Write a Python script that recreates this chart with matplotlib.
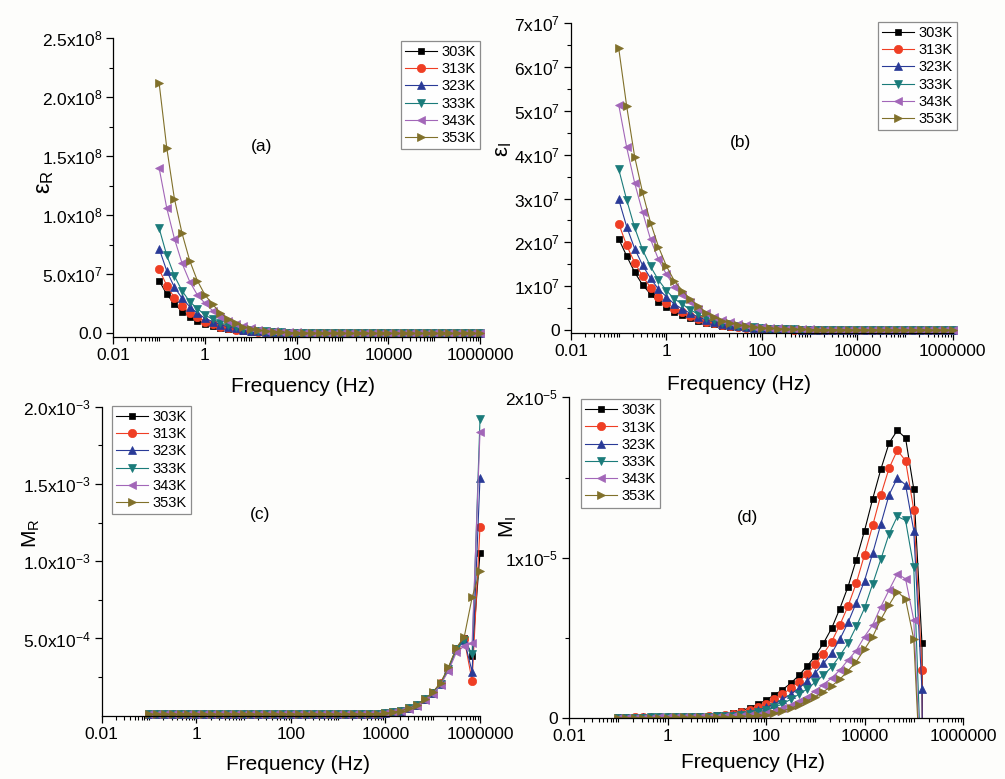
"""
Dielectric and electric modulus spectra vs frequency, four panels (a)-(d).
"""

import numpy as np
import matplotlib
matplotlib.use("Agg")
import matplotlib.pyplot as plt
from matplotlib.ticker import FixedLocator, LogLocator, NullFormatter

plt.rcParams['font.family'] = ['Liberation Sans', 'DejaVu Sans']
plt.rcParams['mathtext.fontset'] = 'custom'
plt.rcParams['mathtext.rm'] = 'Liberation Sans'
plt.rcParams['mathtext.it'] = 'Liberation Sans:italic'
plt.rcParams['mathtext.bf'] = 'Liberation Sans:bold'

# measurement frequencies (Hz), 6 points per decade
freq = [0.1, 0.1468, 0.2154, 0.3162, 0.4642, 0.6813,
        1, 1.468, 2.154, 3.162, 4.642, 6.813,
        10, 14.68, 21.54, 31.62, 46.42, 68.13,
        100, 146.8, 215.4, 316.2, 464.2, 681.3,
        1000, 1468, 2154, 3162, 4642, 6813,
        1e4, 14680, 21540, 31620, 46420, 68130,
        1e5, 146800, 215400, 316200, 464200, 681300, 1e6]

temps = ['303K', '313K', '323K', '333K', '343K', '353K']

# real permittivity, units of 1e6
eps_r_303 = [44.6, 33.0, 24.9, 18.4, 14.1, 10.7, 7.9, 6.2, 4.6, 3.4, 2.5, 1.85, 1.36, 1.0, 0.74,
             0.55, 0.41, 0.30, 0.22, 0.16, 0.12, 0.09, 0.065, 0.048, 0.036, 0.027, 0.020, 0.015,
             0.011, 0.008, 0.006, 0.0045, 0.0034, 0.0026, 0.002, 0.0015, 0.0012, 0.0009, 0.0007,
             0.0005, 0.0004, 0.0003, 0.0002]
eps_r_313 = [54.2, 40.4, 30.2, 23.4, 17.0, 13.6, 9.9, 7.6, 5.7, 4.3, 3.2, 2.4, 1.78, 1.32, 0.98,
             0.73, 0.54, 0.40, 0.30, 0.22, 0.16, 0.12, 0.09, 0.066, 0.049, 0.036, 0.027, 0.020,
             0.015, 0.011, 0.008, 0.006, 0.0045, 0.0034, 0.0026, 0.002, 0.0015, 0.0012, 0.0009,
             0.0007, 0.0005, 0.0004, 0.0003]
eps_r_323 = [71.8, 52.8, 39.0, 29.7, 22.6, 17.0, 12.7, 9.9, 7.4, 5.5, 4.1, 3.0, 2.25, 1.68, 1.25,
             0.93, 0.69, 0.51, 0.38, 0.28, 0.21, 0.155, 0.115, 0.085, 0.063, 0.047, 0.035, 0.026,
             0.019, 0.014, 0.010, 0.0075, 0.0056, 0.0042, 0.0031, 0.0023, 0.0017, 0.0013, 0.001,
             0.0008, 0.0006, 0.0005, 0.0004]
eps_r_333 = [89.0, 66.0, 48.6, 36.0, 26.8, 21.0, 15.5, 11.9, 8.9, 6.7, 5.0, 3.7, 2.75, 2.05, 1.52,
             1.13, 0.84, 0.62, 0.46, 0.34, 0.25, 0.185, 0.137, 0.10, 0.075, 0.055, 0.041, 0.030,
             0.022, 0.016, 0.012, 0.009, 0.0067, 0.005, 0.0037, 0.0027, 0.002, 0.0015, 0.0011,
             0.0008, 0.0006, 0.0005, 0.0004]
eps_r_343 = [140, 106, 80.2, 59.3, 43.8, 32.5, 25.4, 19.2, 14.2, 10.5, 7.8, 5.8, 4.3, 3.2, 2.35,
             1.75, 1.3, 0.96, 0.71, 0.53, 0.39, 0.29, 0.215, 0.16, 0.118, 0.087, 0.064, 0.048,
             0.035, 0.026, 0.019, 0.014, 0.0105, 0.0078, 0.0058, 0.0043, 0.0032, 0.0024, 0.0018,
             0.0013, 0.001, 0.0007, 0.0005]
eps_r_353 = [212, 157, 114, 84.7, 61.6, 44.6, 32.5, 24.5, 17.5, 12.2, 8.3, 5.6, 3.8, 2.6, 1.8,
             1.25, 0.87, 0.6, 0.42, 0.29, 0.2, 0.14, 0.1, 0.07, 0.05, 0.036, 0.026, 0.019, 0.014,
             0.01, 0.0075, 0.0055, 0.004, 0.003, 0.0022, 0.0016, 0.0012, 0.0009, 0.0007, 0.0005,
             0.0004, 0.0003, 0.0002]

# imaginary permittivity, units of 1e6
eps_i_303 = [20.8, 16.9, 13.2, 10.3, 8.2, 6.5, 5.3, 4.2, 3.4, 2.7, 2.1, 1.65, 1.3, 1.0, 0.78,
             0.6, 0.46, 0.35, 0.27, 0.2, 0.15, 0.115, 0.088, 0.067, 0.051, 0.039, 0.03, 0.023,
             0.018, 0.014, 0.011, 0.0085, 0.0066, 0.0051, 0.004, 0.0031, 0.0024, 0.0019, 0.0015,
             0.0012, 0.0009, 0.0007, 0.0005]
eps_i_313 = [24.3, 19.3, 15.4, 12.3, 9.7, 7.6, 6.2, 4.9, 4.0, 3.1, 2.45, 1.9, 1.5, 1.15, 0.9,
             0.7, 0.53, 0.4, 0.31, 0.23, 0.175, 0.133, 0.1, 0.077, 0.059, 0.045, 0.034, 0.026,
             0.02, 0.015, 0.012, 0.009, 0.007, 0.0054, 0.0042, 0.0032, 0.0025, 0.0019, 0.0015,
             0.0012, 0.0009, 0.0007, 0.0005]
eps_i_323 = [29.8, 23.6, 18.6, 14.8, 11.8, 9.3, 7.6, 5.9, 4.8, 3.8, 3.0, 2.3, 1.8, 1.4, 1.1,
             0.85, 0.65, 0.5, 0.38, 0.29, 0.22, 0.168, 0.128, 0.098, 0.075, 0.057, 0.044, 0.034,
             0.026, 0.02, 0.015, 0.0115, 0.0088, 0.0068, 0.0052, 0.004, 0.0031, 0.0024, 0.0018,
             0.0014, 0.0011, 0.0008, 0.0006]
eps_i_333 = [36.7, 29.7, 23.4, 18.3, 14.5, 11.4, 9.0, 7.1, 5.9, 4.6, 3.6, 2.8, 2.2, 1.7, 1.3,
             1.0, 0.77, 0.59, 0.45, 0.34, 0.26, 0.2, 0.152, 0.116, 0.089, 0.068, 0.052, 0.04,
             0.031, 0.024, 0.018, 0.014, 0.011, 0.0083, 0.0064, 0.0049, 0.0038, 0.0029, 0.0022,
             0.0017, 0.0013, 0.001, 0.0008]
eps_i_343 = [51.4, 41.7, 33.6, 26.9, 20.7, 16.1, 12.7, 9.9, 8.0, 6.3, 4.9, 3.8, 3.0, 2.3, 1.8,
             1.4, 1.05, 0.8, 0.6, 0.46, 0.35, 0.27, 0.205, 0.157, 0.12, 0.092, 0.07, 0.054,
             0.041, 0.031, 0.024, 0.018, 0.014, 0.011, 0.0083, 0.0063, 0.0048, 0.0037, 0.0028,
             0.0022, 0.0017, 0.0013, 0.001]
eps_i_353 = [64.3, 51.1, 39.6, 31.4, 24.5, 19.0, 14.6, 11.2, 9.0, 7.0, 5.5, 3.9, 2.9, 2.1, 1.6,
             1.2, 0.9, 0.68, 0.51, 0.39, 0.3, 0.23, 0.175, 0.134, 0.102, 0.078, 0.06, 0.046,
             0.035, 0.027, 0.021, 0.016, 0.012, 0.0093, 0.0071, 0.0054, 0.0041, 0.0032, 0.0024,
             0.0018, 0.0014, 0.0011, 0.0008]

# real modulus, units of 1e-3
m_r_303 = [0.010, 0.010, 0.010, 0.010, 0.010, 0.010, 0.010, 0.010, 0.010, 0.010, 0.010, 0.010,
           0.010, 0.010, 0.010, 0.010, 0.010, 0.010, 0.010, 0.010, 0.010, 0.010, 0.010, 0.010,
           0.010, 0.010, 0.011, 0.011, 0.012, 0.013, 0.016, 0.022, 0.032, 0.048, 0.069, 0.106,
           0.149, 0.210, 0.307, 0.436, 0.505, 0.386, 1.055]
m_r_313 = [0.010, 0.010, 0.010, 0.010, 0.010, 0.010, 0.010, 0.010, 0.010, 0.010, 0.010, 0.010,
           0.010, 0.010, 0.010, 0.010, 0.010, 0.010, 0.010, 0.010, 0.010, 0.010, 0.010, 0.010,
           0.010, 0.010, 0.011, 0.011, 0.012, 0.013, 0.016, 0.022, 0.032, 0.048, 0.069, 0.106,
           0.149, 0.210, 0.305, 0.430, 0.495, 0.225, 1.223]
m_r_323 = [0.010, 0.010, 0.010, 0.010, 0.010, 0.010, 0.010, 0.010, 0.010, 0.010, 0.010, 0.010,
           0.010, 0.010, 0.010, 0.010, 0.010, 0.010, 0.010, 0.010, 0.010, 0.010, 0.010, 0.010,
           0.010, 0.010, 0.011, 0.011, 0.012, 0.013, 0.016, 0.022, 0.032, 0.048, 0.068, 0.105,
           0.148, 0.208, 0.300, 0.430, 0.490, 0.285, 1.540]
m_r_333 = [0.010, 0.010, 0.010, 0.010, 0.010, 0.010, 0.010, 0.010, 0.010, 0.010, 0.010, 0.010,
           0.010, 0.010, 0.010, 0.010, 0.010, 0.010, 0.010, 0.010, 0.010, 0.010, 0.010, 0.010,
           0.010, 0.010, 0.011, 0.011, 0.012, 0.013, 0.016, 0.022, 0.032, 0.047, 0.068, 0.105,
           0.148, 0.208, 0.305, 0.430, 0.490, 0.400, 1.920]
m_r_343 = [0.010, 0.010, 0.010, 0.010, 0.010, 0.010, 0.010, 0.010, 0.010, 0.010, 0.010, 0.010,
           0.010, 0.010, 0.010, 0.010, 0.010, 0.010, 0.010, 0.010, 0.010, 0.010, 0.010, 0.010,
           0.010, 0.010, 0.011, 0.011, 0.012, 0.013, 0.015, 0.021, 0.030, 0.045, 0.064, 0.100,
           0.140, 0.200, 0.290, 0.410, 0.450, 0.470, 1.834]
m_r_353 = [0.010, 0.010, 0.010, 0.010, 0.010, 0.010, 0.010, 0.010, 0.010, 0.010, 0.010, 0.010,
           0.010, 0.010, 0.010, 0.010, 0.010, 0.010, 0.010, 0.010, 0.010, 0.010, 0.010, 0.010,
           0.010, 0.010, 0.011, 0.011, 0.012, 0.013, 0.016, 0.022, 0.033, 0.049, 0.070, 0.108,
           0.152, 0.214, 0.315, 0.440, 0.510, 0.766, 0.937]

# imaginary modulus, units of 1e-5 (falls below zero above ~1.5e5 Hz)
m_i_303 = [0.005, 0.005, 0.006, 0.006, 0.007, 0.007, 0.008, 0.009, 0.010, 0.011, 0.013, 0.015,
           0.018, 0.023, 0.031, 0.047, 0.066, 0.087, 0.114, 0.145, 0.178, 0.218, 0.267, 0.324,
           0.389, 0.468, 0.561, 0.684, 0.821, 0.988, 1.168, 1.368, 1.553, 1.715, 1.794, 1.746,
           1.430, 0.468, -8.0, -12.0, -14.0, -15.0, -16.0]
m_i_313 = [0.004, 0.004, 0.005, 0.005, 0.006, 0.006, 0.007, 0.008, 0.009, 0.010, 0.011, 0.013,
           0.016, 0.020, 0.027, 0.037, 0.052, 0.068, 0.089, 0.118, 0.149, 0.187, 0.228, 0.276,
           0.337, 0.402, 0.478, 0.582, 0.700, 0.842, 1.019, 1.202, 1.393, 1.559, 1.670, 1.605,
           1.300, 0.301, -7.0, -11.0, -13.0, -14.0, -15.0]
m_i_323 = [0.004, 0.004, 0.004, 0.005, 0.005, 0.006, 0.006, 0.007, 0.008, 0.009, 0.010, 0.011,
           0.013, 0.016, 0.021, 0.028, 0.037, 0.052, 0.068, 0.089, 0.118, 0.149, 0.187, 0.232,
           0.284, 0.342, 0.406, 0.493, 0.597, 0.721, 0.857, 1.029, 1.212, 1.393, 1.497, 1.455,
           1.170, 0.181, -6.0, -10.0, -12.0, -13.0, -14.0]
m_i_333 = [0.003, 0.003, 0.004, 0.004, 0.005, 0.005, 0.006, 0.006, 0.007, 0.008, 0.009, 0.010,
           0.012, 0.014, 0.016, 0.020, 0.027, 0.037, 0.052, 0.068, 0.089, 0.118, 0.149, 0.182,
           0.225, 0.269, 0.320, 0.390, 0.468, 0.572, 0.686, 0.838, 0.992, 1.150, 1.258, 1.233,
           0.942, -0.45, -5.0, -9.0, -11.0, -12.0, -13.0]
m_i_343 = [0.003, 0.003, 0.003, 0.004, 0.004, 0.005, 0.005, 0.006, 0.006, 0.007, 0.008, 0.009,
           0.010, 0.012, 0.013, 0.016, 0.018, 0.022, 0.031, 0.046, 0.062, 0.083, 0.108, 0.134,
           0.173, 0.210, 0.252, 0.300, 0.364, 0.422, 0.509, 0.582, 0.696, 0.800, 0.900, 0.869,
           0.613, -0.50, -5.0, -8.0, -10.0, -11.0, -12.0]
m_i_353 = [0.002, 0.002, 0.003, 0.003, 0.003, 0.004, 0.004, 0.005, 0.005, 0.006, 0.006, 0.007,
           0.008, 0.009, 0.010, 0.012, 0.015, 0.018, 0.021, 0.031, 0.046, 0.062, 0.083, 0.108,
           0.134, 0.166, 0.201, 0.243, 0.297, 0.353, 0.430, 0.509, 0.617, 0.707, 0.790, 0.742,
           0.493, -0.55, -5.0, -8.0, -10.0, -11.0, -12.0]

colors = ['#000000', '#ef3e24', '#293a97', '#1a7b7a', '#a266b8', '#80702a']
markers = ['s', 'o', '^', 'v', '<', '>']
msizes = [5.0, 6.0, 6.2, 6.2, 6.2, 6.2]

W, H = 1005, 779
fig = plt.figure(figsize=(W / 100, H / 100), dpi=100)
fig.patch.set_facecolor('#fdfdfb')


def px_axes(left, top, right, bottom):
    # axes placed from pixel edges measured from the top-left corner
    ax = fig.add_axes([left / W, 1 - bottom / H, (right - left) / W, (bottom - top) / H])
    ax.set_facecolor('none')
    return ax


def sup_label(mant, exp):
    return r'$\mathregular{' + mant + 'x10^{' + exp + '}}$'


def style(ax, ylim, yticks, ylabels, yminor):
    ax.set_xscale('log')
    ax.set_xlim(0.01, 1e6)
    ax.xaxis.set_major_locator(FixedLocator([0.01, 1, 100, 1e4, 1e6]))
    ax.set_xticklabels(['0.01', '1', '100', '10000', '1000000'])
    ax.xaxis.set_minor_locator(LogLocator(base=10, subs=np.arange(1, 10), numticks=100))
    ax.xaxis.set_minor_formatter(NullFormatter())
    ax.set_ylim(*ylim)
    ax.set_yticks(yticks)
    ax.set_yticklabels(ylabels)
    ax.yaxis.set_minor_locator(FixedLocator(yminor))
    for side in ('top', 'right'):
        ax.spines[side].set_visible(False)
    for side in ('left', 'bottom'):
        ax.spines[side].set_linewidth(0.9)
    ax.tick_params(which='major', direction='out', length=5, width=0.9,
                   labelsize=12.5, pad=3)
    ax.tick_params(which='minor', direction='out', length=2.8, width=0.8)


def draw(ax, series, scale, clip=True):
    for ys, lab, c, m, ms in zip(series, temps, colors, markers, msizes):
        ax.plot(freq, np.array(ys) * scale, color=c, lw=0.8, marker=m, ms=ms,
                mfc=c, mec=c, mew=0.5, label=lab, clip_on=clip)


def legend(ax, x, y):
    lg = ax.legend(loc='upper left', bbox_to_anchor=(x / W, 1 - y / H),
                   bbox_transform=fig.transFigure, fontsize=10.5, frameon=True,
                   fancybox=False, borderaxespad=0, borderpad=0.3, labelspacing=0.22,
                   handlelength=2.2, handletextpad=0.3, numpoints=1)
    lg.get_frame().set_edgecolor('#707070')
    lg.get_frame().set_linewidth(0.9)


# (a) real permittivity
ax_a = px_axes(113.3, 38.3, 480, 336.7)
draw(ax_a, [eps_r_303, eps_r_313, eps_r_323, eps_r_333, eps_r_343, eps_r_353], 1e6, clip=False)
style(ax_a, (-2.9e6, 2.5e8), [0, 5e7, 1e8, 1.5e8, 2e8, 2.5e8],
      ['0.0', sup_label('5.0', '7'), sup_label('1.0', '8'), sup_label('1.5', '8'),
       sup_label('2.0', '8'), sup_label('2.5', '8')],
      [2.5e7, 7.5e7, 1.25e8, 1.75e8, 2.25e8])
legend(ax_a, 401, 40.7)
ax_a.text(0.405, 0.636, '(a)', transform=ax_a.transAxes, fontsize=12.5, ha='center', va='center')

# (b) imaginary permittivity
ax_b = px_axes(571, 23.3, 952.7, 333.3)
draw(ax_b, [eps_i_303, eps_i_313, eps_i_323, eps_i_333, eps_i_343, eps_i_353], 1e6, clip=False)
style(ax_b, (-7.5e5, 7e7), [0, 1e7, 2e7, 3e7, 4e7, 5e7, 6e7, 7e7],
      ['0'] + [sup_label(str(i), '7') for i in range(1, 8)],
      [5e6, 1.5e7, 2.5e7, 3.5e7, 4.5e7, 5.5e7, 6.5e7])
legend(ax_b, 878, 21.7)
ax_b.text(0.443, 0.614, '(b)', transform=ax_b.transAxes, fontsize=12.5, ha='center', va='center')

# (c) real modulus
ax_c = px_axes(101.7, 406.7, 480, 715.7)
draw(ax_c, [m_r_303, m_r_313, m_r_323, m_r_333, m_r_343, m_r_353], 1e-3, clip=False)
style(ax_c, (0, 2e-3), [5e-4, 1e-3, 1.5e-3, 2e-3],
      [sup_label('5.0', '-4'), sup_label('1.0', '-3'), sup_label('1.5', '-3'),
       sup_label('2.0', '-3')],
      [2.5e-4, 7.5e-4, 1.25e-3, 1.75e-3])
legend(ax_c, 112, 405.7)
ax_c.text(0.418, 0.65, '(c)', transform=ax_c.transAxes, fontsize=12.5, ha='center', va='center')

# (d) imaginary modulus
ax_d = px_axes(569, 397.3, 963, 718.3)
draw(ax_d, [m_i_303, m_i_313, m_i_323, m_i_333, m_i_343, m_i_353], 1e-5, clip=True)
style(ax_d, (0, 2e-5), [0, 1e-5, 2e-5],
      ['0', sup_label('1', '-5'), sup_label('2', '-5')],
      [0.5e-5, 1.5e-5])
legend(ax_d, 581, 399)
ax_d.text(0.454, 0.627, '(d)', transform=ax_d.transAxes, fontsize=12.5, ha='center', va='center')

# axis titles
for ax, xc, ytop in ((ax_a, 0.516, -0.135), (ax_b, 0.44, -0.134),
                     (ax_c, 0.52, -0.127), (ax_d, 0.466, -0.109)):
    ax.set_xlabel('Frequency (Hz)', fontsize=15)
    ax.xaxis.set_label_coords(xc, ytop)

fig.text(44.5 / W, 1 - 182 / H, 'ε$_\\mathregular{R}$', rotation=90, fontsize=17,
         ha='center', va='center')
fig.text(504 / W, 1 - 150 / H, 'ε$_\\mathregular{I}$', rotation=90, fontsize=16,
         ha='center', va='center')
fig.text(31 / W, 1 - 533 / H, 'M$_\\mathregular{R}$', rotation=90, fontsize=15,
         ha='center', va='center')
fig.text(508 / W, 1 - 527 / H, 'M$_\\mathregular{I}$', rotation=90, fontsize=15,
         ha='center', va='center')

fig.savefig('out.png', dpi=100, facecolor=fig.get_facecolor())
